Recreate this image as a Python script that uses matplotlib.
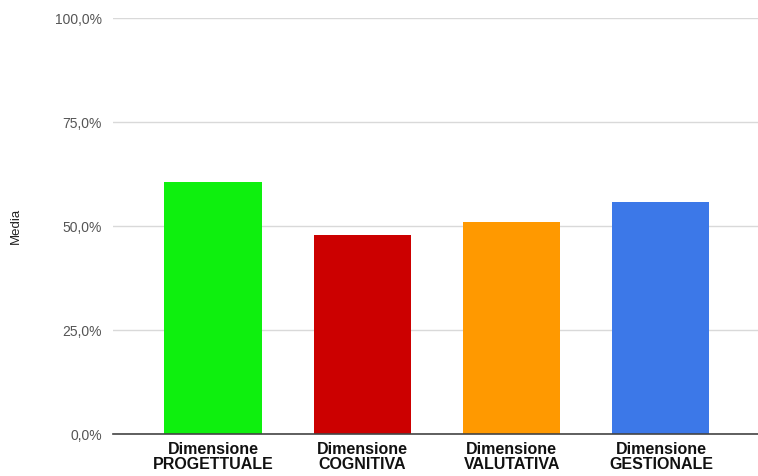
import matplotlib.pyplot as plt
from matplotlib.ticker import FuncFormatter

categories = ['Dimensione\nPROGETTUALE', 'Dimensione\nCOGNITIVA',
              'Dimensione\nVALUTATIVA', 'Dimensione\nGESTIONALE']
values = [60.6, 47.8, 51.0, 55.8]
colors = ['#0ef00e', '#cc0000', '#ff9900', '#3c78e8']

plt.rcParams['font.family'] = ['Liberation Sans', 'DejaVu Sans']

fig = plt.figure(figsize=(7.58, 4.76), dpi=100)
ax = fig.add_axes([0.149, 0.088, 0.851, 0.874])

x = range(len(categories))
ax.bar(x, values, width=0.65, color=colors, zorder=3)

ax.set_ylim(0, 100)
ax.set_xlim(-0.67, 3.65)
ax.set_yticks([0, 25, 50, 75, 100])
ax.yaxis.set_major_formatter(
    FuncFormatter(lambda v, p: f'{v:.1f}%'.replace('.', ',')))
ax.grid(axis='y', color='#d9d9d9', linewidth=1, zorder=0)

ax.set_xticks(list(x))
ax.set_xticklabels(categories, fontsize=11.5, fontweight='bold',
                   color='#111111', linespacing=0.95)
ax.tick_params(axis='x', length=0, pad=6)
ax.tick_params(axis='y', length=0, pad=8, labelsize=10, labelcolor='#555555')

for s in ['top', 'right', 'left']:
    ax.spines[s].set_visible(False)
ax.spines['bottom'].set_color('#444444')
ax.spines['bottom'].set_linewidth(1.2)
ax.spines['bottom'].set_zorder(4)

ax.set_ylabel('Media', fontsize=9.5, color='#222222', labelpad=24)

fig.savefig('out.png', dpi=100)
